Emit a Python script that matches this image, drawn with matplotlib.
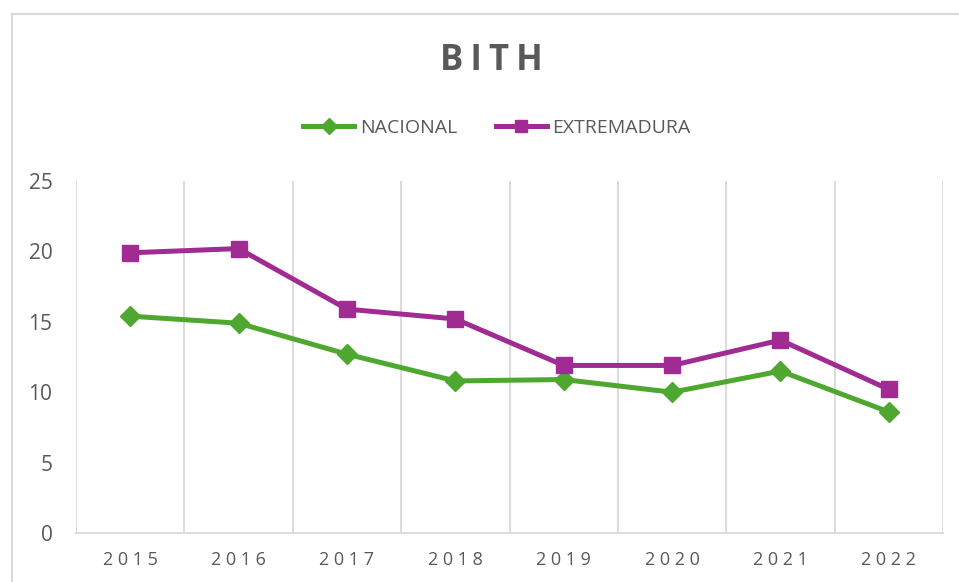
import numpy as np
import matplotlib
matplotlib.use("Agg")
import matplotlib.pyplot as plt
from matplotlib.lines import Line2D

# data
years = ["2015", "2016", "2017", "2018", "2019", "2020", "2021", "2022"]
nacional = [15.4, 14.9, 12.7, 10.8, 10.9, 10.0, 11.5, 8.6]
extremadura = [19.9, 20.2, 15.9, 15.2, 11.9, 11.9, 13.7, 10.2]

green = "#4EA72E"
purple = "#A02B93"
grey_txt = "#595959"
grid_col = "#D9D9D9"

plt.rcParams['font.family'] = ['Open Sans', 'DejaVu Sans']

fig = plt.figure(figsize=(9.59, 5.82), dpi=100)
ax = fig.add_axes([76/959, 49/582, (943-76)/959, (533-181)/582])

x = np.arange(len(years))
ax.plot(x, nacional, color=green, lw=3.6, marker="D", ms=10, label="NACIONAL")
ax.plot(x, extremadura, color=purple, lw=3.6, marker="s", ms=11, label="EXTREMADURA")

ax.set_xlim(-0.5, len(years) - 0.5)
ax.set_ylim(0, 25)
ax.set_yticks(np.arange(0, 26, 5))
ax.set_xticks(x)
ax.set_xticklabels([" ".join(y) for y in years])

# vertical gridlines sit between the categories
ax.set_xticks(np.arange(-0.5, len(years)), minor=True)
ax.grid(which="minor", axis="x", color=grid_col, lw=1.3)
ax.tick_params(which="both", length=0)
ax.tick_params(axis="y", labelsize=15, labelcolor=grey_txt, pad=17)
ax.tick_params(axis="x", labelsize=13, labelcolor=grey_txt, pad=13)
for gl in ax.get_xgridlines():
    gl.set_clip_on(False)

for s in ["top", "right", "left"]:
    ax.spines[s].set_visible(False)
ax.spines["bottom"].set_color(grid_col)
ax.spines["bottom"].set_linewidth(1.3)

fig.text(491/959, 1 - 61/582, "B\u2009I\u2009T\u2009H", ha="center", va="center",
         fontsize=25, fontweight="bold", color=grey_txt)

fig.legend(loc="center", bbox_to_anchor=(497/959, 1 - 128/582), ncol=2,
           frameon=False, fontsize=14, labelcolor=grey_txt,
           handlelength=2.6, columnspacing=2.0, handletextpad=0.3,
           markerscale=0.85)

# chart area border (cut off at right and bottom)
fig.add_artist(Line2D([12/959, 12/959], [0, 1 - 14/582], transform=fig.transFigure,
                      color=grid_col, lw=1.5))
fig.add_artist(Line2D([12/959, 1], [1 - 14/582, 1 - 14/582], transform=fig.transFigure,
                      color=grid_col, lw=1.5))

fig.savefig("out.png", dpi=100)
